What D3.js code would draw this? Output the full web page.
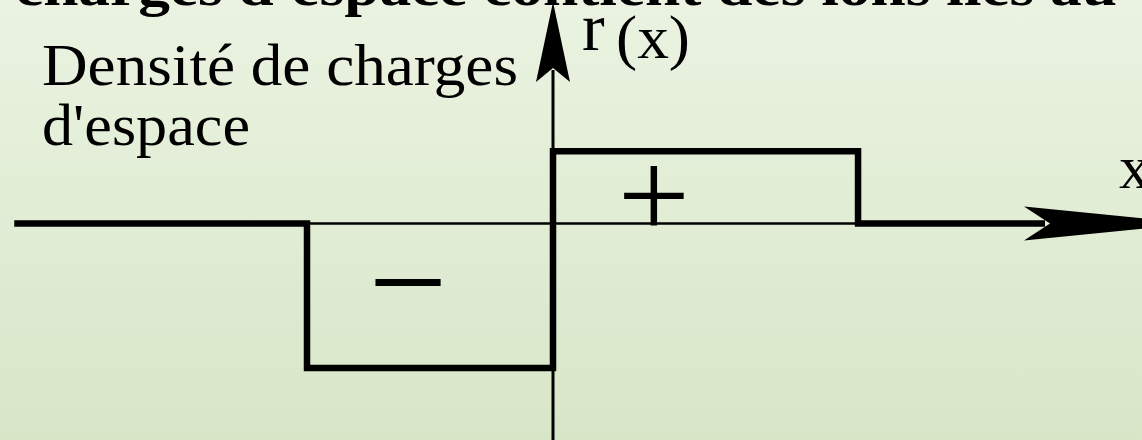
<!DOCTYPE html>
<html><head><meta charset="utf-8">
<script src="https://cdn.jsdelivr.net/npm/d3@7"></script>
<style>html,body{margin:0;padding:0;overflow:hidden;}svg{display:block;}</style>
</head><body>
<svg id="c" width="1142" height="440"></svg>
<script>
// ---- data ----
const titleText = "charges d'espace contient des ions liés au";
const yLabelLines = ["Densité de charges", "d'espace"];
const yAxisLabel = ["r", "(x)"];
const xAxisLabel = "x";
// step profile: x breakpoints and charge density after each breakpoint
const stepX = [-2.19, -1, 0, 1.24, 2.0];
const stepRho = [0, -1, 0.5, 0, 0];
const signs = [{s: "−", x: -0.59, rho: -0.4, size: 140}, {s: "+", x: 0.41, rho: 0.2, size: 128}];

const W = 1142, H = 440;
const svg = d3.select("#c");
const defs = svg.append("defs");
const g = defs.append("linearGradient").attr("id", "bg").attr("x1", 0).attr("y1", 0).attr("x2", 0).attr("y2", 1);
g.append("stop").attr("offset", "0%").attr("stop-color", "#eaf3e1");
g.append("stop").attr("offset", "100%").attr("stop-color", "#d8e6c8");
svg.append("rect").attr("width", W).attr("height", H).attr("fill", "url(#bg)");

const x = d3.scaleLinear().domain([-1, 0]).range([307, 553]);
const y = d3.scaleLinear().domain([-1, 0]).range([368, 223.5]);

// title (cropped at top)
svg.append("text").attr("x", 15).attr("y", 5)
  .attr("font-family", "Liberation Serif").attr("font-weight", "bold").attr("font-size", 54)
  .attr("textLength", 1102).attr("lengthAdjust", "spacingAndGlyphs")
  .text(titleText);

// thin axes
svg.append("line").attr("x1", x(-1)).attr("x2", 1040).attr("y1", y(0)).attr("y2", y(0))
  .attr("stroke", "#000").attr("stroke-width", 2.5);
svg.append("line").attr("x1", x(0)).attr("x2", x(0)).attr("y1", H).attr("y2", 70)
  .attr("stroke", "#000").attr("stroke-width", 3);
// y arrow head
const x0 = x(0);
svg.append("path").attr("d", `M${x0},2 L${x0+17},82 L${x0},68 L${x0-17},82 Z`).attr("fill", "#000");

// step profile
const pts = stepX.map((v, i) => [x(v), y(stepRho[i])]);
const line = d3.line().curve(d3.curveStepAfter);
svg.append("path").attr("d", line(pts)).attr("fill", "none").attr("stroke", "#000")
  .attr("stroke-width", 6.5).attr("stroke-linejoin", "miter").attr("stroke-linecap", "butt");
// x arrow head
const yy = y(0);
svg.append("path").attr("d", `M1195,${yy} L1024,${yy-17} L1050,${yy} L1024,${yy+17} Z`).attr("fill", "#000");

// left label
yLabelLines.forEach((t, i) => {
  svg.append("text").attr("x", 42).attr("y", 85 + i * 60)
    .attr("font-family", "Liberation Serif").attr("font-size", 60)
    .attr("textLength", i === 0 ? 476 : 208).attr("lengthAdjust", "spacingAndGlyphs")
    .text(t);
});
// y axis label
svg.append("text").attr("x", 582).attr("y", 50).attr("font-family", "Liberation Serif")
  .attr("font-size", 68).text(yAxisLabel[0]);
svg.append("text").attr("x", 616).attr("y", 58).attr("font-family", "Liberation Serif")
  .attr("font-size", 62).attr("textLength", 74).attr("lengthAdjust", "spacingAndGlyphs").text(yAxisLabel[1]);
// x axis label
svg.append("text").attr("x", 1119).attr("y", 188).attr("font-family", "Liberation Serif")
  .attr("font-size", 62).text(xAxisLabel);

// signs
signs.forEach(d => {
  svg.append("text").attr("x", x(d.x)).attr("y", y(d.rho))
    .attr("text-anchor", "middle").attr("dominant-baseline", "central")
    .attr("font-family", "Liberation Serif").attr("font-size", d.size)
    .text(d.s);
});
</script>
</body></html>
